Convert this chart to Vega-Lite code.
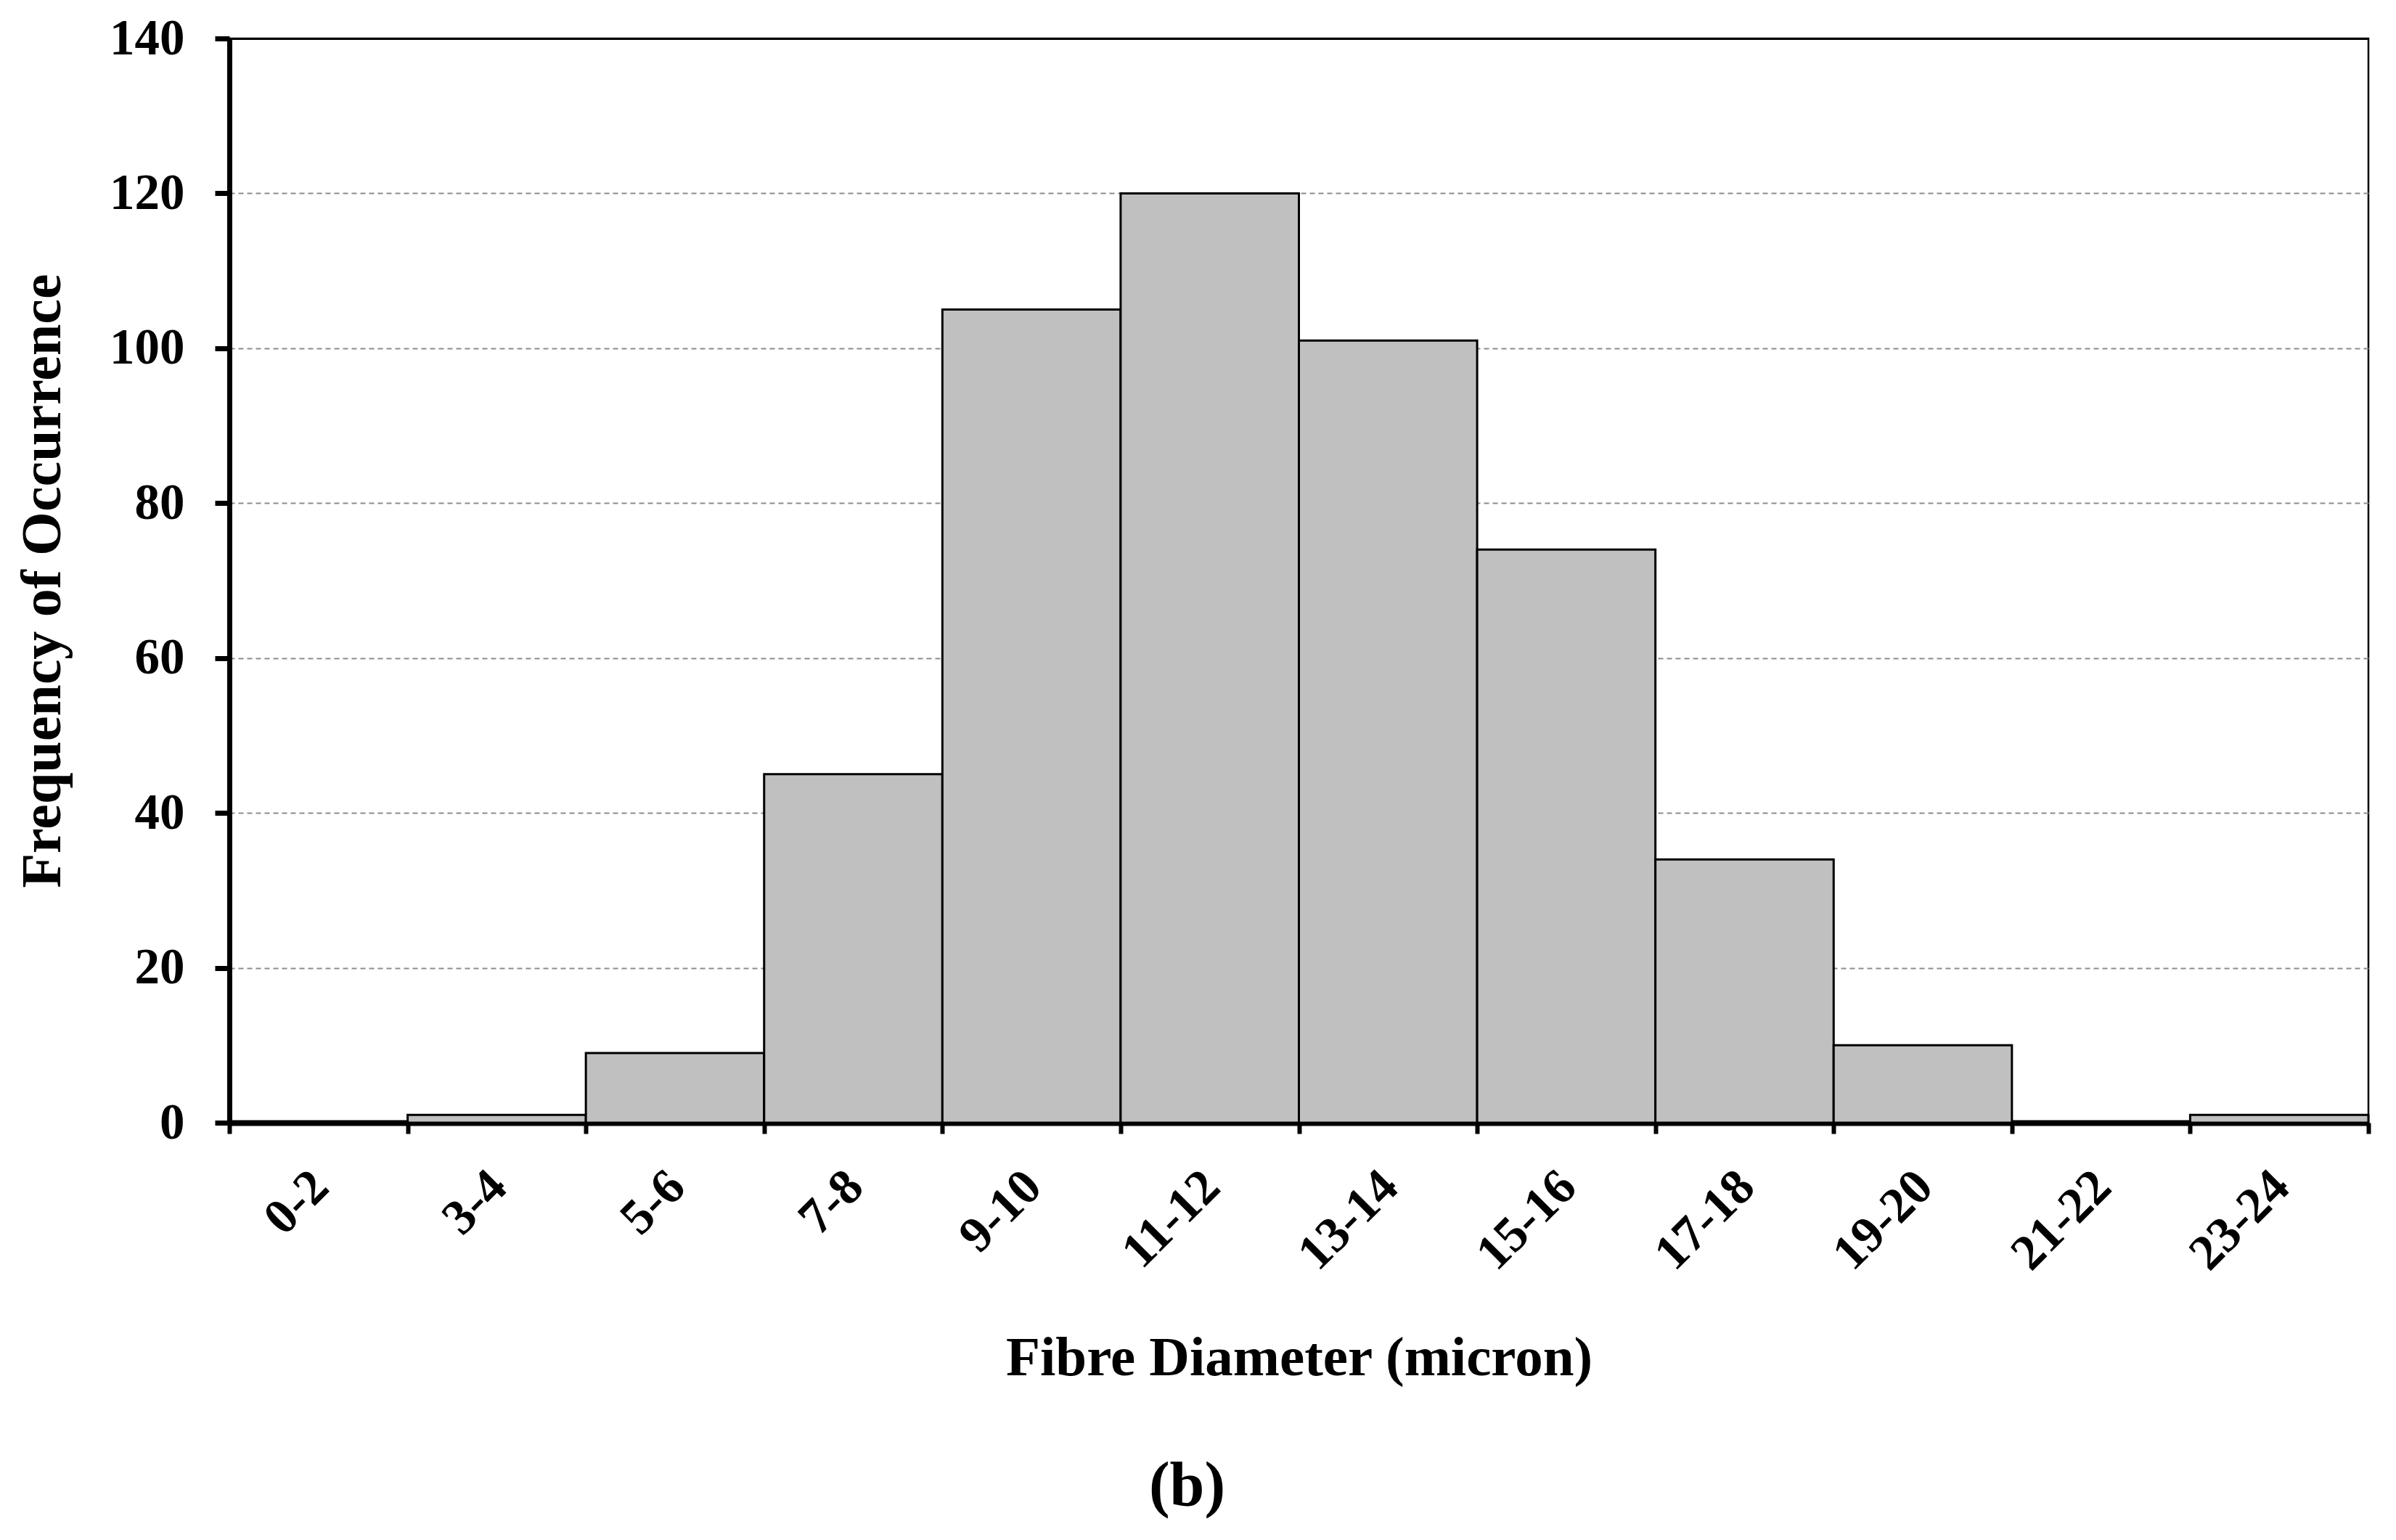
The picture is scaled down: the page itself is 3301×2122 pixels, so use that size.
{
  "$schema": "https://vega.github.io/schema/vega-lite/v6.json",
  "autosize": {"type": "none"},
  "padding": {"left": 316, "top": 53, "right": 38, "bottom": 575},
  "width": 2947,
  "height": 1494,
  "background": "white",
  "title": {
    "text": "(b)",
    "orient": "bottom",
    "anchor": "middle",
    "dx": -154,
    "offset": 97,
    "font": "Liberation Serif",
    "fontSize": 86,
    "fontWeight": "bold",
    "color": "black"
  },
  "config": {
    "view": {"stroke": "black", "strokeWidth": 2.5},
    "font": "Liberation Serif"
  },
  "data": {
    "values": [
      {"bin": "0-2", "count": 0},
      {"bin": "3-4", "count": 1},
      {"bin": "5-6", "count": 9},
      {"bin": "7-8", "count": 45},
      {"bin": "9-10", "count": 105},
      {"bin": "11-12", "count": 120},
      {"bin": "13-14", "count": 101},
      {"bin": "15-16", "count": 74},
      {"bin": "17-18", "count": 34},
      {"bin": "19-20", "count": 10},
      {"bin": "21-22", "count": 0},
      {"bin": "23-24", "count": 1}
    ]
  },
  "mark": {"type": "bar", "fill": "#c0c0c0", "stroke": "black", "strokeWidth": 3},
  "encoding": {
    "x": {
      "field": "bin",
      "type": "nominal",
      "sort": null,
      "scale": {"paddingInner": 0, "paddingOuter": 0},
      "axis": {
        "title": "Fibre Diameter (micron)",
        "titleFont": "Liberation Serif",
        "titleFontSize": 77,
        "titleFontWeight": "bold",
        "titleColor": "black",
        "titlePadding": 86,
        "labelFont": "Liberation Serif",
        "labelFontSize": 69,
        "labelFontWeight": "bold",
        "labelColor": "black",
        "labelAngle": -45,
        "labelAlign": "right",
        "labelBaseline": "middle",
        "labelPadding": 62,
        "labelOffset": 2,
        "tickBand": "extent",
        "tickSize": 15,
        "tickWidth": 6,
        "tickColor": "black",
        "domainColor": "black",
        "domainWidth": 8,
        "grid": false
      }
    },
    "y": {
      "field": "count",
      "type": "quantitative",
      "scale": {"domain": [0, 140], "nice": false},
      "axis": {
        "title": "Frequency of Occurrence",
        "titleFont": "Liberation Serif",
        "titleFontSize": 78,
        "titleFontWeight": "bold",
        "titleColor": "black",
        "titlePadding": 52,
        "values": [0, 20, 40, 60, 80, 100, 120, 140],
        "labelFont": "Liberation Serif",
        "labelFontSize": 69,
        "labelFontWeight": "bold",
        "labelColor": "black",
        "labelPadding": 42,
        "tickSize": 20,
        "tickWidth": 7,
        "tickColor": "black",
        "domainColor": "black",
        "domainWidth": 7,
        "grid": true,
        "gridColor": {"condition": {"test": "datum.value === 140", "value": "black"}, "value": "#8c8c8c"},
        "gridDash": {"condition": {"test": "datum.value === 140", "value": []}, "value": [7, 5]},
        "gridWidth": {"condition": {"test": "datum.value === 140", "value": 3}, "value": 2}
      }
    }
  }
}
